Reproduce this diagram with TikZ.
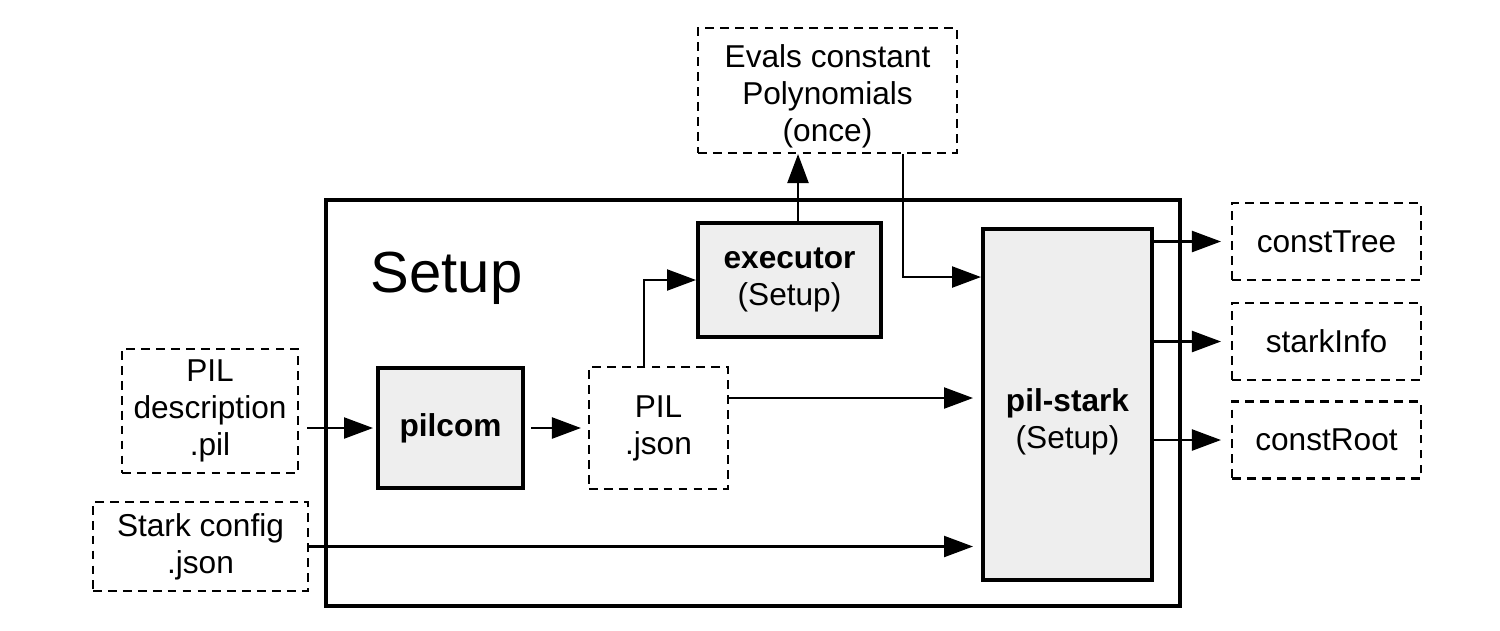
\documentclass[tikz,border=0pt]{standalone}
\usepackage{fontspec}
\setmainfont{Liberation Sans}
\usetikzlibrary{arrows.meta}
\definecolor{boxgray}{RGB}{238,238,238}
\tikzstyle{tool}=[draw,line width=2.3pt,fill=boxgray,align=center,inner sep=0pt]
\tikzstyle{datafile}=[draw,line width=1.2pt,dash pattern=on 5pt off 3.5pt,align=center,inner sep=0pt]
\tikzstyle{frame}=[draw,line width=2.4pt,inner sep=0pt]
\tikzstyle{flow}=[line width=1.3pt,-{Triangle[length=0.58cm,width=0.42cm]}]
\newcommand{\boxfont}{\fontsize{18}{21}\selectfont}
\begin{document}
\begin{tikzpicture}[x=0.02cm,y=-0.02cm,font=\boxfont]
	\useasboundingbox (0,0) rectangle (1500,630);
	% the Setup frame
	\node[frame,minimum width=17.08cm,minimum height=8.12cm] (setupframe) at (753,403) {};
	\node[anchor=base,font=\fontsize{33}{38}\selectfont] (setuptitle) at (446.5,292) {Setup};
	% inputs
	\node[datafile,minimum width=3.52cm,minimum height=2.48cm] (pildesc) at (210,411) {PIL\\description\\.pil};
	\node[datafile,minimum width=4.3cm,minimum height=1.78cm] (starkcfg) at (200.5,546.5) {Stark config\\.json};
	% tools
	\node[tool,minimum width=2.9cm,minimum height=2.4cm] (pilcom) at (450.5,428) {\textbf{pilcom}};
	\node[datafile,minimum width=2.78cm,minimum height=2.44cm] (piljson) at (658.5,428) {PIL\\.json};
	\node[tool,minimum width=3.66cm,minimum height=2.28cm] (executor) at (789.5,280) {\textbf{executor}\\(Setup)};
	\node[datafile,minimum width=5.18cm,minimum height=2.5cm,
		label={[align=center,yshift=-0.12cm]center:{Evals constant\\Polynomials\\(once)}}] (evals) at (827.5,90.5) {};
	\node[tool,minimum width=3.38cm,minimum height=7.02cm,
		label={[align=center,yshift=-0.34cm]center:{\textbf{pil-stark}\\(Setup)}}] (pilstark) at (1067.5,404.5) {};
	% outputs
	\node[datafile,minimum width=3.78cm,minimum height=1.54cm] (consttree) at (1326.5,241.5) {constTree};
	\node[datafile,minimum width=3.78cm,minimum height=1.54cm] (starkinfo) at (1326.5,341.5) {starkInfo};
	\node[datafile,minimum width=3.78cm,minimum height=1.54cm] (constroot) at (1326.5,440) {constRoot};
	% connectors
	\coordinate (jsonup) at ([xshift=-0.29cm]piljson.north);
	\coordinate (execup) at ([xshift=0.17cm]executor.north);
	\coordinate (evalsdrop) at ([xshift=1.51cm]evals.south);
	\draw[flow,shorten <=0.16cm,shorten >=0.06cm] (pildesc.east |- pilcom.west) -- (pilcom.west);
	\draw[flow,shorten <=0.12cm,shorten >=0.14cm] (pilcom.east) -- (piljson.west);
	\draw[flow] (jsonup) |- (executor.west);
	\draw[flow,shorten >=0.16cm] ([yshift=0.6cm]piljson.east) -- ([yshift=0.6cm]piljson.east -| pilstark.west);
	\draw[flow,shorten >=0.16cm] (starkcfg.east) -- (starkcfg.east -| pilstark.west);
	\draw[flow] (execup) -- (execup |- evals.south);
	\draw[flow] (evalsdrop) |- ([yshift=2.55cm]pilstark.west);
	\foreach \out in {consttree,starkinfo,constroot}
		\draw[flow,shorten >=0.2cm] (pilstark.east |- \out.west) -- (\out.west);
\end{tikzpicture}
\end{document}
